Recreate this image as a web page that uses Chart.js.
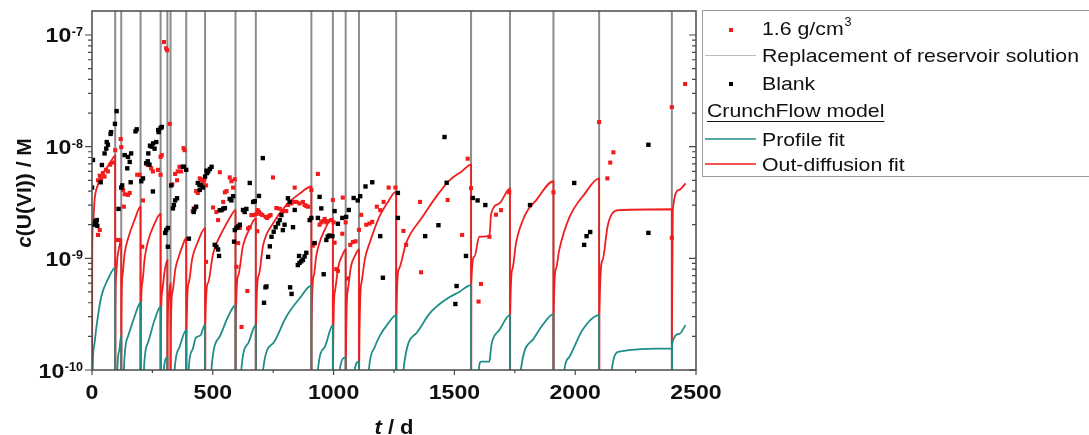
<!DOCTYPE html>
<html>
<head>
<meta charset="utf-8">
<script src="https://cdn.jsdelivr.net/npm/chart.js@4.4.1/dist/chart.umd.min.js"></script>
<style>
html,body{margin:0;padding:0;background:#fff;overflow:hidden}
canvas{display:block}
</style>
</head>
<body>
<canvas id="chart" width="1089" height="435"></canvas>
<script>
// ---------- data ----------
// days on which the reservoir solution was replaced
const replacementDays = [96, 121, 201, 284, 312, 325, 390, 468, 594, 678, 908, 997, 1050, 1105, 1259, 1569, 1730, 1910, 2099, 2400];

// measured c(U(VI)) for the 1.6 g/cm3 sample (red squares)
const sampleDays = [
  11, 25, 32, 25, 32, 38, 45, 52, 58, 66,
  75, 87, 96, 119, 121, 105, 114, 129, 135, 149,
  156, 132, 187, 197, 211, 208, 231, 245, 252, 273,
  284, 284, 289, 298, 307, 311, 322, 344, 355, 362,
  369, 383, 379, 332, 352, 417, 421, 431, 438, 459,
  465, 472, 472, 446, 453, 501, 515, 522, 529, 543,
  550, 557, 570, 577, 591, 584, 605, 598, 612, 619,
  643, 646, 653, 660, 667, 681, 686, 691, 698, 705,
  719, 725, 732, 739, 684, 749, 763, 777, 790, 804,
  811, 825, 832, 839, 846, 859, 873, 880, 887, 894,
  908, 935, 914, 921, 942, 949, 955, 963, 970, 976,
  997, 1011, 990, 1000, 1004, 1038, 1050, 1036, 1018, 1059,
  1069, 1080, 1091, 1105, 1114, 1135, 1149, 1160, 1179, 1193,
  1207, 1228, 1256, 1289, 1300, 1358, 1362, 1472, 1555, 1569,
  1532, 1610, 1600, 1645, 1672, 1693, 1727, 1910, 2099, 2133,
  2145, 2158, 2400, 2455, 2400
];
const sampleConc = [
  2.1e-9, 1.62e-9, 1.79e-9, 5.0e-9, 5.5e-9, 5.2e-9, 5.8e-9, 5.4e-9, 6.2e-9, 6.0e-9,
  6.9e-9, 7.2e-9, 9.3e-9, 1.17e-8, 9.9e-9, 1.46e-9, 1.46e-9, 4.1e-9, 3.75e-9, 3.7e-9,
  3.85e-9, 2.9e-9, 5.6e-9, 5.6e-9, 3.3e-9, 1.27e-9, 6.85e-9, 6.4e-9, 6.0e-9, 6.2e-9,
  5.6e-9, 8.1e-9, 8.4e-9, 8.65e-8, 7.6e-8, 7.3e-8, 1.6e-8, 5.7e-9, 6.0e-9, 6.6e-9,
  6.0e-9, 9.3e-9, 9.7e-9, 4.6e-9, 5.0e-9, 2.65e-9, 2.8e-9, 4.0e-9, 3.85e-9, 4.9e-9,
  5.1e-9, 4.5e-9, 9.3e-10, 5.2e-9, 5.0e-9, 2.85e-9, 2.6e-9, 2.2e-9, 5.9e-9, 3.2e-9,
  3.9e-9, 4.0e-9, 5.3e-9, 4.9e-9, 5.1e-9, 4.3e-9, 1.37e-9, 8.4e-10, 1.87e-9, 2.43e-10,
  5.1e-10, 1.85e-9, 1.9e-9, 2.44e-9, 2.44e-9, 2.5e-9, 2.7e-9, 2.6e-9, 2.5e-9, 2.44e-9,
  2.35e-9, 2.3e-9, 2.38e-9, 2.44e-9, 1.75e-9, 5.3e-9, 2.82e-9, 2.78e-9, 2.65e-9, 2.65e-9,
  3.0e-9, 3.1e-9, 3.2e-9, 4.3e-9, 3.2e-9, 3.1e-9, 3.2e-9, 3.0e-9, 2.95e-9, 2.9e-9,
  4.1e-9, 5.7e-9, 1.3e-9, 1.37e-9, 2.0e-9, 2.1e-9, 2.15e-9, 2.25e-9, 2.1e-9, 2.15e-9,
  3.33e-9, 8.0e-10, 2.2e-9, 2.1e-9, 1.38e-9, 3.5e-9, 2.1e-9, 1.66e-9, 7.7e-10, 6.6e-10,
  1.32e-9, 1.4e-9, 1.42e-9, 1.8e-9, 2.45e-9, 2.0e-9, 2.05e-9, 2.12e-9, 2.9e-9, 2.7e-9,
  3.2e-9, 4.3e-9, 4.3e-9, 1.76e-9, 1.32e-9, 3.2e-9, 7.5e-10, 3.33e-9, 7.8e-9, 4.25e-9,
  1.62e-9, 5.9e-10, 4.1e-10, 1.56e-9, 2.46e-9, 2.7e-9, 3.9e-9, 3.9e-9, 1.66e-8, 5.2e-9,
  7.2e-9, 8.9e-9, 2.26e-8, 3.64e-8, 1.53e-9
];

// measured c(U(VI)) for the blank (black squares)
const blankDays = [
  0, 4, 8, 14, 17, 20, 22, 36, 41, 52,
  59, 61, 66, 77, 79, 95, 102, 110, 121, 125,
  135, 146, 149, 156, 160, 162, 180, 185, 204, 211,
  224, 231, 238, 233, 240, 247, 253, 252, 259, 266,
  274, 276, 284, 289, 303, 307, 314, 314, 328, 335,
  339, 344, 352, 376, 380, 390, 401, 421, 424, 431,
  438, 445, 446, 453, 459, 468, 476, 474, 481, 488,
  495, 508, 515, 522, 526, 529, 536, 543, 550, 570,
  577, 584, 588, 591, 598, 605, 612, 625, 632, 639,
  653, 667, 674, 691, 707, 712, 718, 722, 729, 736,
  743, 752, 760, 770, 777, 784, 790, 797, 811, 818,
  820, 826, 832, 839, 852, 857, 859, 866, 873, 880,
  887, 901, 908, 921, 935, 942, 949, 959, 970, 976,
  983, 995, 1004, 1018, 1036, 1052, 1063, 1083, 1100, 1110,
  1132, 1160, 1193, 1204, 1266, 1266, 1379, 1434, 1459, 1468,
  1504, 1509, 1548, 1576, 1596, 1628, 1813, 1996, 2037, 2047,
  2062, 2303, 2303
];
const blankConc = [
  4.3e-9, 7.6e-9, 2.0e-9, 2.15e-9, 2.05e-9, 2.2e-9, 1.95e-9, 4.8e-9, 6.85e-9, 8.7e-9,
  9.6e-9, 1.1e-8, 1.04e-8, 1.3e-8, 1.35e-8, 1.6e-8, 2.08e-8, 2.77e-9, 4.3e-9, 4.5e-9,
  8.4e-9, 6.4e-9, 8.1e-9, 7.3e-9, 4.8e-9, 8.7e-9, 1.37e-8, 1.43e-8, 4.9e-9, 5.2e-9,
  7.1e-9, 7.4e-9, 6.9e-9, 8.7e-9, 1.02e-8, 1.0e-8, 1.07e-8, 3.97e-9, 9.6e-9, 1.1e-8,
  1.41e-8, 1.35e-8, 1.47e-8, 1.5e-8, 1.69e-9, 1.79e-9, 1.87e-9, 1.27e-9, 4.5e-9, 2.8e-9,
  3.0e-9, 3.3e-9, 3.45e-9, 6.6e-9, 6.6e-9, 6.2e-9, 1.5e-9, 2.6e-9, 2.75e-9, 2.9e-9,
  4.73e-9, 4.54e-9, 4.1e-9, 4.5e-9, 4.3e-9, 5.4e-9, 5.8e-9, 6.1e-9, 6.0e-9, 6.3e-9,
  6.6e-9, 1.32e-9, 1.27e-9, 1.2e-9, 1.05e-9, 2.7e-9, 2.7e-9, 2.78e-9, 2.82e-9, 3.4e-9,
  3.3e-9, 3.6e-9, 1.41e-9, 1.79e-9, 1.87e-9, 1.93e-9, 2.0e-9, 2.71e-9, 2.6e-9, 2.77e-9,
  4.73e-9, 3.2e-9, 3.25e-9, 3.62e-9, 7.9e-9, 4.0e-10, 5.5e-10, 5.6e-10, 1.03e-9, 1.28e-9,
  1.56e-9, 1.73e-9, 1.9e-9, 2.05e-9, 2.2e-9, 2.44e-9, 1.79e-9, 2.0e-9, 3.45e-9, 3.2e-9,
  5.5e-10, 4.8e-10, 1.9e-9, 2.71e-9, 8.7e-10, 1.05e-9, 9.1e-10, 9.4e-10, 9.7e-10, 1.04e-9,
  1.12e-9, 2.2e-9, 2.3e-9, 1.37e-9, 2.3e-9, 3.55e-9, 2.8e-9, 7.2e-10, 1.46e-9, 1.57e-9,
  1.6e-9, 1.58e-9, 2.65e-9, 2.04e-9, 2.3e-9, 2.35e-9, 2.71e-9, 3.47e-9, 3.3e-9, 3.6e-9,
  4.4e-9, 4.8e-9, 1.58e-9, 6.7e-10, 3.85e-9, 2.3e-9, 1.58e-9, 1.98e-9, 1.22e-8, 4.75e-9,
  3.9e-10, 5.65e-10, 1.05e-9, 3.47e-9, 3.3e-9, 3.0e-9, 3.0e-9, 4.73e-9, 1.32e-9, 1.58e-9,
  1.72e-9, 1.04e-8, 1.69e-9
];

// CrunchFlow out-diffusion fit (red line); 1e-12 marks the reset to ~0 after a replacement
const outDiffDays = [
  0, 1, 4, 11, 25, 38, 52, 66, 80, 96, 96,
  97, 100, 105, 112, 121, 121,
  122, 126, 135, 149, 176, 201, 201,
  202, 208, 218, 231, 259, 284, 284,
  285, 290, 300, 312, 312,
  313, 318, 325, 325,
  326, 333, 345, 360, 375, 390, 390,
  391, 400, 415, 438, 468, 468,
  469, 480, 501, 543, 570, 594, 594,
  595, 605, 625, 650, 678, 678,
  679, 690, 708, 749, 804, 860, 908, 908,
  909, 918, 928, 963, 997, 997,
  998, 1005, 1020, 1035, 1050, 1050,
  1051, 1058, 1072, 1088, 1105, 1105,
  1106, 1115, 1130, 1149, 1190, 1225, 1259, 1259,
  1260, 1270, 1300, 1369, 1430, 1480, 1530, 1569, 1569,
  1570, 1583, 1603, 1645, 1652, 1686, 1730, 1730,
  1731, 1740, 1755, 1796, 1838, 1910, 1910,
  1911, 1920, 1934, 1975, 2040, 2099, 2099,
  2100, 2113, 2134, 2154, 2182, 2400, 2400,
  2404, 2430, 2457
];
const outDiffConc = [
  1e-12, 1.2e-9, 2.0e-9, 3.4e-9, 4.6e-9, 5.4e-9, 6.1e-9, 6.7e-9, 7.5e-9, 8.3e-9, 1e-12,
  3e-10, 7e-10, 1.0e-9, 1.25e-9, 1.46e-9, 1e-12,
  3e-10, 7e-10, 1.1e-9, 1.5e-9, 2.2e-9, 2.9e-9, 1e-12,
  2.5e-10, 6e-10, 1.0e-9, 1.4e-9, 2.05e-9, 2.5e-9, 1e-12,
  2e-10, 5e-10, 7.5e-10, 9.7e-10, 1e-12,
  2e-10, 4.5e-10, 6e-10, 1e-12,
  2e-10, 5e-10, 8e-10, 1.05e-9, 1.3e-9, 1.52e-9, 1e-12,
  2e-10, 6e-10, 1.0e-9, 1.4e-9, 1.86e-9, 1e-12,
  2.5e-10, 6e-10, 1.1e-9, 1.8e-9, 2.3e-9, 2.7e-9, 1e-12,
  2.5e-10, 7e-10, 1.3e-9, 1.8e-9, 2.28e-9, 1e-12,
  2.5e-10, 7e-10, 1.3e-9, 2.05e-9, 3.0e-9, 3.8e-9, 4.4e-9, 1e-12,
  2.5e-10, 7e-10, 1.04e-9, 1.8e-9, 2.28e-9, 1e-12,
  1.3e-10, 5e-10, 8.5e-10, 1.05e-9, 1.2e-9, 1e-12,
  1.2e-10, 5e-10, 8.5e-10, 1.05e-9, 1.2e-9, 1e-12,
  1.2e-10, 6e-10, 1.0e-9, 1.37e-9, 2.37e-9, 3.2e-9, 3.95e-9, 1e-12,
  3e-10, 8e-10, 1.37e-9, 2.37e-9, 3.7e-9, 5.0e-9, 6.0e-9, 6.9e-9, 1e-12,
  6e-10, 1.04e-9, 1.56e-9, 1.58e-9, 2.5e-9, 3.1e-9, 4.2e-9, 1e-12,
  3e-10, 8e-10, 1.37e-9, 2.53e-9, 3.3e-9, 4.9e-9, 1e-12,
  3e-10, 8e-10, 1.19e-9, 2.3e-9, 3.8e-9, 5.2e-9, 1e-12,
  3e-10, 9.6e-10, 1.93e-9, 2.53e-9, 2.7e-9, 2.75e-9, 1.7e-10,
  2.7e-9, 4.1e-9, 4.7e-9
];

// CrunchFlow profile fit (teal line)
const profileDays = [
  0, 3, 8, 18, 38, 66, 96, 96,
  105, 113, 121, 121,
  132, 149, 176, 201, 201,
  215, 231, 259, 284, 284,
  297, 312, 312,
  342, 362, 390, 390,
  400, 415, 430, 450, 458, 468, 468,
  494, 529, 563, 594, 594,
  618, 646, 678, 678,
  708, 749, 804, 860, 908, 908,
  935, 963, 997, 997,
  1025, 1050, 1050,
  1087, 1105, 1105,
  1146, 1170, 1190, 1225, 1259, 1259,
  1289, 1342, 1397, 1466, 1520, 1569, 1569,
  1601, 1610, 1645, 1652, 1658, 1686, 1730, 1730,
  1775, 1824, 1865, 1910, 1910,
  1955, 1975, 2030, 2099, 2099,
  2151, 2182, 2400, 2400,
  2401, 2430, 2457
];
const profileConc = [
  1e-12, 1e-10, 1.6e-10, 2.4e-10, 4.5e-10, 6.5e-10, 8.2e-10, 1e-12,
  1e-10, 1.5e-10, 2.06e-10, 1e-12,
  1e-10, 2.0e-10, 3.0e-10, 4.0e-10, 1e-12,
  1e-10, 1.74e-10, 2.8e-10, 3.7e-10, 1e-12,
  1e-10, 1.3e-10, 1e-12,
  1e-10, 1.6e-10, 2.28e-10, 1e-12,
  1e-10, 1.5e-10, 1.95e-10, 2.05e-10, 2.3e-10, 2.55e-10, 1e-12,
  1e-10, 2.0e-10, 3.0e-10, 3.8e-10, 1e-12,
  1e-10, 1.73e-10, 2.53e-10, 1e-12,
  1e-10, 1.73e-10, 3.0e-10, 4.4e-10, 5.7e-10, 1e-12,
  1e-10, 1.6e-10, 2.53e-10, 1e-12,
  1e-10, 1.3e-10, 1e-12,
  1e-10, 1.19e-10, 1e-12,
  1e-10, 1.6e-10, 2.0e-10, 2.6e-10, 3.1e-10, 1e-12,
  1e-10, 2.13e-10, 3.2e-10, 4.3e-10, 5.0e-10, 5.76e-10, 1e-12,
  1e-10, 1.19e-10, 1.19e-10, 1.6e-10, 1.86e-10, 2.28e-10, 3.1e-10, 1e-12,
  1e-10, 1.86e-10, 2.53e-10, 3.17e-10, 1e-12,
  1e-10, 1.3e-10, 2.28e-10, 3.1e-10, 1e-12,
  1e-10, 1.46e-10, 1.56e-10, 1e-12,
  1.7e-10, 2.1e-10, 2.53e-10
];

// axes and ticks
const xRange = [0, 2500];
const yRange = [1e-10, 1.64e-7];
const xTickValues = [0, 500, 1000, 1500, 2000, 2500];
const xMinorTickValues = [250, 750, 1250, 1750, 2250];
const yTickExponents = [-10, -9, -8, -7];
const yMinorMultipliers = [2, 3, 4, 5, 6, 7, 8, 9];
const replacementSpan = [1e-12, 1e-5];

// texts
const labelSample = '1.6 g/cm';
const labelSampleSup = '3';
const labelReplacement = 'Replacement of reservoir solution';
const labelBlank = 'Blank';
const labelModelHeader = 'CrunchFlow model';
const labelProfile = 'Profile fit';
const labelOutDiff = 'Out-diffusion fit';

// ---------- styling ----------
const FF = '"Liberation Sans", Arial, Helvetica, sans-serif';
const RED = '#f01e1e';
const RED_PT = '#f21c1c';
const TEAL = '#1f8d88';
const GRAY = '#8d8d8d';
const FRAME = '#4a4a4a';
const TXT = '#111111';

function toPoints(xs, ys) { return xs.map((x, i) => ({ x: x, y: ys[i] })); }
function replacementPoints(days) {
  const out = [];
  days.forEach(d => { out.push({ x: d, y: replacementSpan[0] }, { x: d, y: replacementSpan[1] }, { x: d, y: null }); });
  return out;
}

function drawText(ctx, s, x, y, font, align, baseline, sx) {
  ctx.save();
  ctx.font = font;
  ctx.textAlign = 'left';
  ctx.textBaseline = baseline;
  const w = ctx.measureText(s).width * sx;
  const x0 = align === 'center' ? x - w / 2 : (align === 'right' ? x - w : x);
  ctx.translate(x0, y);
  ctx.scale(sx, 1);
  ctx.fillText(s, 0, 0);
  ctx.restore();
  return w;
}
function textWidth(ctx, s, font, sx) { ctx.save(); ctx.font = font; const w = ctx.measureText(s).width * sx; ctx.restore(); return w; }

const decor = {
  id: 'decor',
  afterDatasetsDraw(chart) {
    const ctx = chart.ctx, ca = chart.chartArea;
    const xs = chart.scales.x, ys = chart.scales.y;
    ctx.save();
    // frame
    ctx.strokeStyle = FRAME;
    ctx.lineWidth = 1.5;
    ctx.strokeRect(ca.left, ca.top, ca.right - ca.left, ca.bottom - ca.top);
    // ticks
    ctx.lineWidth = 1.2;
    ctx.beginPath();
    yTickExponents.forEach(e => {
      const y = ys.getPixelForValue(Math.pow(10, e));
      ctx.moveTo(ca.left - 7, y); ctx.lineTo(ca.left, y);
      ctx.moveTo(ca.right, y); ctx.lineTo(ca.right - 7, y);
      yMinorMultipliers.forEach(m => {
        const v = m * Math.pow(10, e);
        if (v > ys.max) return;
        const yy = ys.getPixelForValue(v);
        ctx.moveTo(ca.left - 4, yy); ctx.lineTo(ca.left, yy);
        ctx.moveTo(ca.right, yy); ctx.lineTo(ca.right - 4, yy);
      });
    });
    xTickValues.forEach(v => { const x = xs.getPixelForValue(v); ctx.moveTo(x, ca.bottom); ctx.lineTo(x, ca.bottom + 5); });
    xMinorTickValues.forEach(v => { const x = xs.getPixelForValue(v); ctx.moveTo(x, ca.bottom); ctx.lineTo(x, ca.bottom + 3); });
    ctx.stroke();

    ctx.fillStyle = TXT;
    // y tick labels 10^n
    const yLabRight = ca.left - 9;
    yTickExponents.forEach(e => {
      const y = ys.getPixelForValue(Math.pow(10, e));
      const expStr = '-' + Math.abs(e);
      const fe = 'bold 12px ' + FF;
      const we = textWidth(ctx, expStr, fe, 1.05);
      drawText(ctx, expStr, yLabRight - we, y + 1, fe, 'left', 'alphabetic', 1.05);
      drawText(ctx, '10', yLabRight - we - 0.5, y + 7.5, 'bold 21px ' + FF, 'right', 'alphabetic', 1.1);
    });
    // x tick labels
    xTickValues.forEach(v => {
      const x = xs.getPixelForValue(v);
      drawText(ctx, String(v), x, ca.bottom + 29, 'bold 21px ' + FF, 'center', 'alphabetic', 1.1);
    });
    // x title: t / d
    {
      const fI = 'italic bold 20px ' + FF, fB = 'bold 20px ' + FF;
      const w1 = textWidth(ctx, 't', fI, 1.1), w2 = textWidth(ctx, ' / d', fB, 1.1);
      const cx = (ca.left + ca.right) / 2;
      const x0 = cx - (w1 + w2) / 2;
      drawText(ctx, 't', x0, 434, fI, 'left', 'alphabetic', 1.1);
      drawText(ctx, ' / d', x0 + w1, 434, fB, 'left', 'alphabetic', 1.1);
    }
    // y title: c(U(VI)) / M
    {
      const fI = 'italic bold 20px ' + FF, fB = 'bold 20px ' + FF;
      const w1 = textWidth(ctx, 'c', fI, 1.05), w2 = textWidth(ctx, '(U(VI)) / M', fB, 1.05);
      ctx.save();
      ctx.translate(31, 193);
      ctx.rotate(-Math.PI / 2);
      const x0 = -(w1 + w2) / 2;
      drawText(ctx, 'c', x0, 0, fI, 'left', 'alphabetic', 1.05);
      drawText(ctx, '(U(VI)) / M', x0 + w1, 0, fB, 'left', 'alphabetic', 1.05);
      ctx.restore();
    }

    // legend
    const lx = 702, ly = 11, lb = 177;
    ctx.strokeStyle = '#9a9a9a';
    ctx.lineWidth = 1;
    ctx.strokeRect(lx + 0.5, ly - 0.5, 600, lb - ly);
    const fL = '19px ' + FF, sxL = 1.12;
    const tx = 762;
    // sample marker
    ctx.fillStyle = RED_PT;
    ctx.fillRect(729, 28, 4, 4);
    ctx.fillStyle = TXT;
    const ws = drawText(ctx, labelSample, tx, 35, fL, 'left', 'alphabetic', sxL);
    drawText(ctx, labelSampleSup, tx + ws + 1, 26, '12px ' + FF, 'left', 'alphabetic', 1.05);
    // replacement line
    ctx.strokeStyle = '#bdbdbd'; ctx.lineWidth = 1.2;
    ctx.beginPath(); ctx.moveTo(705, 55.5); ctx.lineTo(756, 55.5); ctx.stroke();
    drawText(ctx, labelReplacement, tx, 62, fL, 'left', 'alphabetic', sxL);
    // blank marker
    ctx.fillStyle = '#000';
    ctx.fillRect(729, 82, 4, 4);
    ctx.fillStyle = TXT;
    drawText(ctx, labelBlank, tx, 90, fL, 'left', 'alphabetic', sxL);
    // model header underlined
    const wh = drawText(ctx, labelModelHeader, 707, 117, fL, 'left', 'alphabetic', sxL);
    ctx.strokeStyle = TXT; ctx.lineWidth = 1.2;
    ctx.beginPath(); ctx.moveTo(707, 121.5); ctx.lineTo(707 + wh, 121.5); ctx.stroke();
    // profile fit
    ctx.strokeStyle = TEAL; ctx.lineWidth = 1.6;
    ctx.beginPath(); ctx.moveTo(705, 139); ctx.lineTo(756, 139); ctx.stroke();
    drawText(ctx, labelProfile, tx, 146, fL, 'left', 'alphabetic', sxL);
    // out-diffusion fit
    ctx.strokeStyle = RED; ctx.lineWidth = 1.6;
    ctx.beginPath(); ctx.moveTo(705, 164); ctx.lineTo(756, 164); ctx.stroke();
    drawText(ctx, labelOutDiff, tx, 171, fL, 'left', 'alphabetic', sxL);

    ctx.restore();
  }
};

new Chart(document.getElementById('chart').getContext('2d'), {
  type: 'line',
  data: {
    datasets: [
      { label: labelBlank, data: toPoints(blankDays, blankConc), showLine: false,
        pointStyle: 'rect', pointRadius: 3.1, pointBackgroundColor: '#000', pointBorderWidth: 0, pointBorderColor: '#000' },
      { label: labelSample, data: toPoints(sampleDays, sampleConc), showLine: false,
        pointStyle: 'rect', pointRadius: 2.9, pointBackgroundColor: RED_PT, pointBorderWidth: 0, pointBorderColor: RED_PT },
      { label: labelProfile, data: toPoints(profileDays, profileConc), borderColor: TEAL, borderWidth: 1.8,
        pointRadius: 0, fill: false, cubicInterpolationMode: 'monotone' },
      { label: labelOutDiff, data: toPoints(outDiffDays, outDiffConc), borderColor: RED, borderWidth: 1.8,
        pointRadius: 0, fill: false, cubicInterpolationMode: 'monotone' },
      { label: labelReplacement, data: replacementPoints(replacementDays), borderColor: GRAY, borderWidth: 2,
        pointRadius: 0, fill: false, spanGaps: false, tension: 0 }
    ]
  },
  options: {
    responsive: false,
    devicePixelRatio: 1,
    animation: false,
    events: [],
    layout: { padding: { left: 92, top: 11, right: 393, bottom: 65 } },
    scales: {
      x: { type: 'linear', min: xRange[0], max: xRange[1], display: false },
      y: { type: 'logarithmic', min: yRange[0], max: yRange[1], display: false }
    },
    plugins: { legend: { display: false }, tooltip: { enabled: false } }
  },
  plugins: [decor]
});
</script>
</body>
</html>
